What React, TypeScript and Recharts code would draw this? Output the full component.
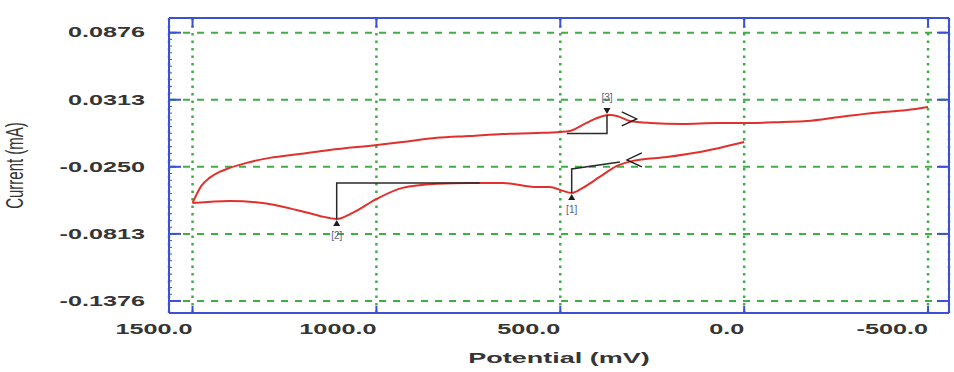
import React from "react";
import { LineChart, Line, XAxis, YAxis, CartesianGrid, ReferenceDot } from "recharts";

// axis ticks
const potentialTicks = [1500, 1000, 500, 0, -500];
const potentialTickLabels = ["1500.0", "1000.0", "500.0", "0.0", "-500.0"];
const currentTicks = [0.0876, 0.0313, -0.025, -0.0813, -0.1376];
const currentTickLabels = ["0.0876", "0.0313", "-0.0250", "-0.0813", "-0.1376"];

// sweep 1: 0 mV -> 1500 mV (lower branch)
const fwdPotential = [0, 120, 210, 303, 346, 393, 439, 469, 493, 529, 564, 656, 746, 836, 929, 999, 1065, 1108, 1154, 1217, 1310, 1399, 1500];
const fwdCurrent = [-0.0041, -0.0125, -0.0167, -0.02, -0.0242, -0.0335, -0.0427, -0.0469, -0.0452, -0.0419, -0.0419, -0.0385, -0.0385, -0.0393, -0.0427, -0.0519, -0.0637, -0.0687, -0.0662, -0.0612, -0.0553, -0.0536, -0.0553];

// sweep 2: 1500 mV -> -500 mV (upper branch)
const revPotential = [1500, 1476, 1454, 1427, 1399, 1353, 1290, 1209, 1127, 999, 929, 836, 746, 656, 564, 501, 474, 439, 406, 384, 365, 346, 311, 256, 167, 74, -16, -105, -171, -260, -350, -443, -500];
const revCurrent = [-0.0553, -0.041, -0.0343, -0.0293, -0.0259, -0.0217, -0.0175, -0.0142, -0.0108, -0.0066, -0.0041, -0.0007, 0.0009, 0.0026, 0.0034, 0.0043, 0.0051, 0.0102, 0.0152, 0.0177, 0.0185, 0.0177, 0.0135, 0.0118, 0.011, 0.0118, 0.0118, 0.0127, 0.0135, 0.0169, 0.0202, 0.0227, 0.0253];

// peak markers and baseline construction
const peakNames = ["[1]", "[2]", "[3]"];
const peakPotential = [469, 1108, 373];
const peakCurrent = [-0.0469, -0.0687, 0.0185];
const baseAtPeakCurrent = [-0.0268, -0.0385, 0.003];
const baseEndPotential = [338, 719, 482];
const baseEndCurrent = [-0.0209, -0.0385, 0.003];

// sweep direction arrows
const arrowPotential = [292, 319];
const arrowCurrent = [0.0152, -0.0192];
const arrowSweep = [-1, 1]; // direction of potential change

const BLUE = "#3d4fd4";
const GREEN = "#3fae45";
const RED = "#e2302c";
const INK = "#353535";
const FONT = "'Liberation Sans', Arial, sans-serif";
const STRETCH = 1.8;

const X_DOMAIN = [-557, 1564];
const Y_DOMAIN = [-0.1477, 0.0999];

const toPoints = (e: number[], i: number[]) => e.map((v, k) => ({ e: v, i: i[k] }));
const forwardSweep = toPoints(fwdPotential, fwdCurrent);
const reverseSweep = toPoints(revPotential, revCurrent);
const constructions = peakPotential.map((p, k) => [
  { e: p, i: peakCurrent[k] },
  { e: p, i: baseAtPeakCurrent[k] },
  { e: baseEndPotential[k], i: baseEndCurrent[k] },
]);

// minor ticks on the left frame, 10 steps per major interval
const leftTicks: number[] = [];
currentTicks.forEach((t, k) => {
  leftTicks.push(t);
  const next = currentTicks[k + 1];
  if (next === undefined) return;
  for (let s = 1; s < 10; s++) leftTicks.push(t + ((next - t) * s) / 10);
});

function Stretched({ x, y, anchor, size, weight, rotate, sx, children }: any) {
  return (
    <g transform={`translate(${x},${y}) scale(${sx ?? STRETCH},1)${rotate ? " rotate(-90)" : ""}`}>
      <text x={0} y={0} textAnchor={anchor} dominantBaseline="central" fontFamily={FONT} fontSize={size} fontWeight={weight} fill={INK}>
        {children}
      </text>
    </g>
  );
}

const BottomTick = (p: any) => {
  const k = potentialTicks.indexOf(p.payload.value);
  return (
    <g>
      <line x1={p.x} x2={p.x} y1={p.y} y2={p.y - 7} stroke={BLUE} strokeWidth={2} />
      <Stretched x={p.x} y={p.y + 16} anchor="end" size={14} weight="bold">
        {potentialTickLabels[k]}
      </Stretched>
    </g>
  );
};

const TopTick = (p: any) => <line x1={p.x} x2={p.x} y1={p.y} y2={p.y + 9} stroke={BLUE} strokeWidth={2} />;

const RightTick = (p: any) => <line x1={p.x} x2={p.x - 12} y1={p.y} y2={p.y} stroke={BLUE} strokeWidth={2} />;

const LeftTick = (p: any) => {
  const k = currentTicks.indexOf(p.payload.value);
  if (k < 0) return <line x1={p.x} x2={p.x + 3} y1={p.y} y2={p.y} stroke={BLUE} strokeWidth={1} />;
  return (
    <g>
      <line x1={p.x} x2={p.x + 12} y1={p.y} y2={p.y} stroke={BLUE} strokeWidth={2} />
      <Stretched x={p.x - 24} y={p.y} anchor="end" size={14} weight="bold">
        {currentTickLabels[k]}
      </Stretched>
    </g>
  );
};

const XTitle = (p: any) => {
  const vb = p.viewBox;
  return (
    <Stretched x={vb.x + vb.width / 2} y={vb.y + 45} anchor="middle" size={15} weight="bold">
      Potential (mV)
    </Stretched>
  );
};

const YTitle = (p: any) => {
  const vb = p.viewBox;
  return (
    <Stretched x={vb.x + 15} y={vb.y + vb.height / 2} anchor="middle" size={15} weight="normal" rotate sx={1.6}>
      Current (mA)
    </Stretched>
  );
};

const PeakMarker = (p: any) => {
  const { cx, cy, name, above } = p;
  const s = above ? -1 : 1;
  return (
    <g>
      <path d={`M${cx},${cy + s} l-3.5,${s * 6} l7,0 z`} fill="#1e1e1e" />
      <text x={cx} y={cy + s * 17} textAnchor="middle" dominantBaseline="central" fontFamily={FONT} fontSize={10} fill="#55607c">
        {name}
      </text>
    </g>
  );
};

const Chevron = (p: any) => {
  const { cx, cy, dir } = p;
  return (
    <polyline
      points={`${cx - dir * 15},${cy - 7} ${cx},${cy} ${cx - dir * 15},${cy + 7}`}
      fill="none"
      stroke="#1e1e1e"
      strokeWidth={1.3}
    />
  );
};

export default function App() {
  return (
    <div style={{ position: "absolute", left: 0, top: 0, background: "#fff" }}>
      <LineChart width={954} height={372} margin={{ top: 0, right: 0, bottom: 0, left: 0 }}>
        <XAxis
          xAxisId={0}
          dataKey="e"
          type="number"
          orientation="bottom"
          reversed
          domain={X_DOMAIN}
          allowDataOverflow
          ticks={potentialTicks}
          interval={0}
          height={59}
          tickSize={0}
          tickMargin={0}
          tickLine={false}
          axisLine={{ stroke: BLUE, strokeWidth: 2 }}
          tick={BottomTick}
          label={<XTitle />}
        />
        <XAxis
          xAxisId="top"
          dataKey="e"
          type="number"
          orientation="top"
          reversed
          domain={X_DOMAIN}
          allowDataOverflow
          ticks={potentialTicks}
          interval={0}
          height={18}
          tickSize={0}
          tickMargin={0}
          tickLine={false}
          axisLine={{ stroke: BLUE, strokeWidth: 2 }}
          tick={TopTick}
        />
        <YAxis
          yAxisId={0}
          type="number"
          orientation="left"
          domain={Y_DOMAIN}
          allowDataOverflow
          ticks={leftTicks}
          interval={0}
          width={169}
          tickSize={0}
          tickMargin={0}
          tickLine={false}
          axisLine={{ stroke: BLUE, strokeWidth: 2 }}
          tick={LeftTick}
          label={<YTitle />}
        />
        <YAxis
          yAxisId="r"
          type="number"
          orientation="right"
          domain={Y_DOMAIN}
          allowDataOverflow
          ticks={currentTicks}
          interval={0}
          width={5}
          tickSize={0}
          tickMargin={0}
          tickLine={false}
          axisLine={{ stroke: BLUE, strokeWidth: 2 }}
          tick={RightTick}
        />
        <CartesianGrid yAxisId="r" vertical={false} stroke={GREEN} strokeWidth={2} strokeDasharray="7 7" />
        <CartesianGrid horizontal={false} stroke={GREEN} strokeWidth={2.5} strokeDasharray="2.5 5" />

        <Line data={forwardSweep} dataKey="i" type="monotone" stroke={RED} strokeWidth={2} dot={false} isAnimationActive={false} />
        <Line data={reverseSweep} dataKey="i" type="monotone" stroke={RED} strokeWidth={2} dot={false} isAnimationActive={false} />
        {constructions.map((pts, k) => (
          <Line
            key={peakNames[k]}
            data={pts}
            dataKey="i"
            type="linear"
            stroke="#2a2a2a"
            strokeWidth={1.5}
            dot={false}
            isAnimationActive={false}
          />
        ))}
        {peakNames.map((n, k) => (
          <ReferenceDot
            key={n}
            x={peakPotential[k]}
            y={peakCurrent[k]}
            r={0}
            shape={(p: any) => <PeakMarker {...p} name={n} above={peakCurrent[k] > baseAtPeakCurrent[k]} />}
          />
        ))}
        {arrowPotential.map((e, k) => (
          <ReferenceDot
            key={"arrow" + k}
            x={e}
            y={arrowCurrent[k]}
            r={0}
            shape={(p: any) => <Chevron {...p} dir={-arrowSweep[k]} />}
          />
        ))}
      </LineChart>
    </div>
  );
}
